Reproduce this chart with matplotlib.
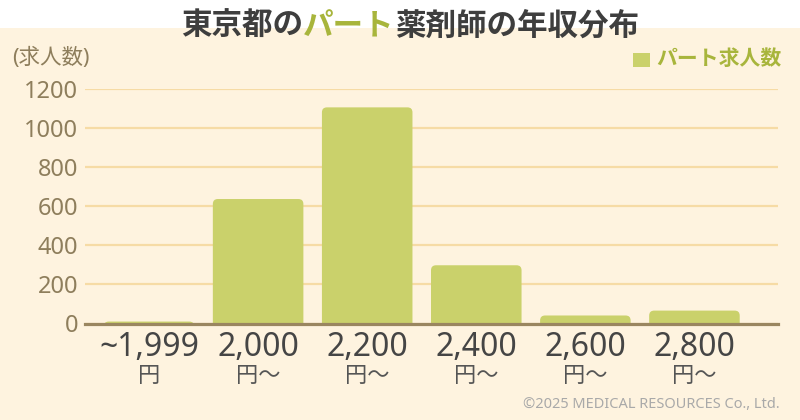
import numpy as np
import matplotlib
matplotlib.use("Agg")
import matplotlib.pyplot as plt
from matplotlib.patches import FancyBboxPatch, Rectangle

plt.rcParams['font.family'] = ['Noto Sans', 'Noto Sans CJK JP', 'DejaVu Sans']

# data
salary_bins = ["~1,999", "2,000", "2,200", "2,400", "2,600", "2,800"]
bin_units = ["円", "円〜", "円〜", "円〜", "円〜", "円〜"]
job_counts = [10, 637, 1106, 298, 41, 66]
y_ticks = [0, 200, 400, 600, 800, 1000, 1200]

title_parts = ["東京都の", "パート", "薬剤師の年収分布"]
legend_label = "パート求人数"
y_label = "(求人数)"
credit = "©2025 MEDICAL RESOURCES Co., Ltd."

bg = "#FEF3DF"
bar_col = "#CAD16B"
olive = "#A8B53C"
brown = "#8E7E5C"
grid_col = "#F6DBA5"
axis_col = "#9A8660"

W, H = 800, 420
fig = plt.figure(figsize=(8, 4.2), dpi=100, facecolor=bg)

# white band at the top
fig.patches.append(Rectangle((0, 1 - 28 / H), 1, 28 / H, transform=fig.transFigure,
                             facecolor="white", edgecolor="none", zorder=0))

left, right, bottom, top = 85, 778, 323.5, 89
ax = fig.add_axes([left / W, 1 - bottom / H, (right - left) / W, (bottom - top) / H])
ax.set_facecolor("none")

x = np.arange(len(job_counts))
xlim = (-0.587, len(job_counts) - 1 + 0.766)
ylim = (0, 1200)
ax.set_xlim(*xlim)
ax.set_ylim(*ylim)

# rounded bars, corners ~5px
px_x = (xlim[1] - xlim[0]) / (right - left)
px_y = (ylim[1] - ylim[0]) / (bottom - top)
bar_w = 0.83
for xi, v in zip(x, job_counts):
    base = -40 * px_y
    p = FancyBboxPatch((xi - bar_w / 2, base), bar_w, v - base,
                       boxstyle="round,pad=0,rounding_size=%f" % (5 * px_x),
                       mutation_aspect=px_y / px_x,
                       facecolor=bar_col, edgecolor="none", zorder=3)
    ax.add_patch(p)

ax.set_yticks(y_ticks)
ax.set_yticklabels([str(t) for t in y_ticks], fontsize=17, color=brown)
ax.tick_params(axis="y", length=0, pad=5)
ax.set_xticks([])
ax.grid(axis="y", color=grid_col, linewidth=1.6, zorder=1)
ax.set_axisbelow(True)
for s in ["top", "right", "left"]:
    ax.spines[s].set_visible(False)
ax.spines["bottom"].set_color(axis_col)
ax.spines["bottom"].set_linewidth(2.3)
ax.spines["bottom"].set_zorder(4)

# x labels: amount plus unit underneath
for xi, lab, unit in zip(x, salary_bins, bin_units):
    ax.text(xi, -(348 - bottom) * px_y, lab, ha="center", va="center",
            fontsize=23, color="#454545", clip_on=False)
    ax.text(xi, -(377 - bottom) * px_y, unit, ha="center", va="center",
            fontsize=16, color="#555555", clip_on=False)

# title with green middle part
cols = ["#3E3E3E", olive, "#3E3E3E"]
ty = 1 - 27 / H
parts = []
for txt, c in zip(title_parts, cols):
    t = fig.text(0, 0, txt, fontsize=22, fontweight="bold", color=c, zorder=5)
    parts.append(t)
r = fig.canvas.get_renderer()
widths = [p.get_window_extent(r).width for p in parts]
xs = 410 - sum(widths) / 2
for p, w in zip(parts, widths):
    p.set_position((xs / W, ty))
    p.set_ha("left")
    p.set_va("center")
    xs += w

# y-axis unit
fig.text(12 / W, 1 - 58 / H, y_label, ha="left", va="center", fontsize=15.5, color=brown)

# legend
fig.patches.append(Rectangle((633 / W, 1 - 67 / H), 17 / W, 14 / H, transform=fig.transFigure,
                             facecolor=bar_col, edgecolor="none"))
fig.text(656 / W, 1 - 59 / H, legend_label, ha="left", va="center", fontsize=15,
         fontweight="bold", color=olive)

fig.text(780 / W, 1 - 404 / H, credit, ha="right", va="center", fontsize=10.5, color="#A9A9A9")

fig.savefig("out.png", dpi=100, facecolor=bg)
